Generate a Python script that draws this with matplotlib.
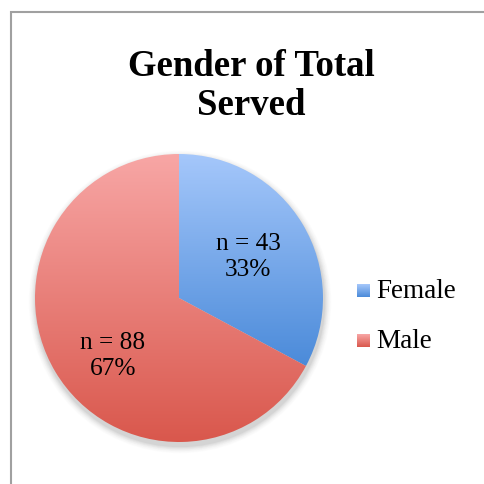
import numpy as np
import matplotlib.pyplot as plt
from matplotlib.colors import LinearSegmentedColormap
from matplotlib.patches import Circle, Rectangle

# ---------------------------------------------------------
# Data
# ---------------------------------------------------------
LABELS = ["Female", "Male"]
COUNTS = [43, 88]
PERCENTS = [33, 67]

TITLE = "Gender of Total\nServed"

# gradient colours (top -> bottom)
TOP_COLORS = ["#a6c8fb", "#f8a7a6"]
BOTTOM_COLORS = ["#4a8ad9", "#d9574c"]

W, H = 485, 484
CX, CY, R = 179, H - 298, 144
FONT = ["Liberation Serif", "DejaVu Serif"]


def main():
    fig = plt.figure(figsize=(W / 100, H / 100), dpi=100)
    ax = fig.add_axes([0, 0, 1, 1])
    ax.set_xlim(0, W)
    ax.set_ylim(0, H)
    ax.axis("off")

    # chart frame (cut off on the right/bottom like the original)
    ax.add_patch(Rectangle((11.5, -20), W + 20, H - 12 + 20, fill=False,
                           edgecolor="#a0a0a0", linewidth=1.5, zorder=0))

    # soft drop shadow
    for i, a in enumerate(np.linspace(0.05, 0.012, 8)):
        ax.add_patch(Circle((CX + 1, CY - 4), R + 1 + i * 0.9, color="#505050",
                            alpha=a, linewidth=0, zorder=1))

    wedges, _ = ax.pie(COUNTS, startangle=90, counterclock=False,
                       center=(CX, CY), radius=R, frame=True,
                       wedgeprops=dict(linewidth=0, zorder=2))
    ax.set_xlim(0, W)
    ax.set_ylim(0, H)
    ax.set_aspect("equal")
    ax.axis("off")

    grad = np.linspace(0, 1, 256).reshape(-1, 1)
    for w, c0, c1 in zip(wedges, TOP_COLORS, BOTTOM_COLORS):
        bb = w.get_path().get_extents()
        cmap = LinearSegmentedColormap.from_list("g", [c0, c1])
        im = ax.imshow(grad, cmap=cmap, aspect="auto", origin="upper",
                       extent=[bb.x0 - 2, bb.x1 + 2, bb.y0 - 2, bb.y1 + 2],
                       zorder=3, interpolation="bilinear")
        im.set_clip_path(w)
        w.set_facecolor("none")

    ax.set_xlim(0, W)
    ax.set_ylim(0, H)

    # slice labels
    pos = [(248, H - 257), (113, H - 356)]
    for (x, y), n, p in zip(pos, COUNTS, PERCENTS):
        ax.text(x, y, f"n = {n}\n{p}%", ha="center", va="center",
                fontsize=18.3, family=FONT, linespacing=1.22, zorder=5)

    # title
    ax.text(251, H - 86, TITLE, ha="center", va="center", fontsize=26.5,
            fontweight="bold", family=FONT, linespacing=1.18, zorder=5)

    # legend
    for i, lab in enumerate(LABELS):
        y = H - (291 + i * 50)
        cmap = LinearSegmentedColormap.from_list("g", [TOP_COLORS[i], BOTTOM_COLORS[i]])
        ax.imshow(grad, cmap=cmap, aspect="auto", origin="upper",
                  extent=[357, 370, y - 6.5, y + 6.5], zorder=5)
        ax.text(376, y, lab, ha="left", va="center", fontsize=19.5,
                family=FONT, zorder=5)

    ax.set_xlim(0, W)
    ax.set_ylim(0, H)
    fig.savefig("out.png", dpi=100)
    plt.close(fig)


if __name__ == "__main__":
    main()
